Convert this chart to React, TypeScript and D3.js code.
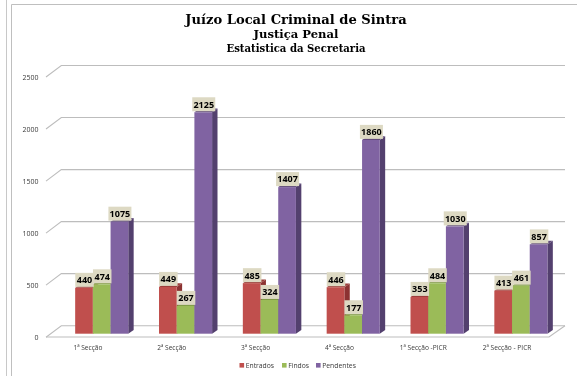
import React from "react";
import * as d3 from "d3";

const categories = ["1ª Secção", "2ª Secção", "3ª Secção", "4ª Secção", "1ª Secção -PICR", "2ª Secção - PICR"];
const entrados = [440, 449, 485, 446, 353, 413];
const findos = [474, 267, 324, 177, 484, 461];
const pendentes = [1075, 2125, 1407, 1860, 1030, 857];
const yTicks = [0, 500, 1000, 1500, 2000, 2500];
const titleLines = ["Juízo Local Criminal de Sintra", "Justiça Penal", "Estatistica da Secretaria"];

const seriesNames = ["Entrados", "Findos", "Pendentes"];
const seriesValues = [entrados, findos, pendentes];
const colors = ["#C0504D", "#9BBB59", "#8064A2"];
const sideColors = ["#8C3331", "#71893F", "#533F6E"];
const topColors = ["#9A3C39", "#7E9A45", "#5E4878"];

const W = 577, H = 376;
const depthX = 15.3, depthY = 11.5;
const barDX = 5.4, barDY = 3.7;
const frontY0 = 337;
const y = d3.scaleLinear().domain([0, 2500]).range([333.7, 73.2]);
const yWall = d3.scaleLinear().domain([0, 2500]).range([325.7, 65.5]);
const xFront = d3.scaleBand<string>().domain(categories).range([46, 549]);
const xBars = d3.scaleBand<string>().domain(categories).range([59.8, 562.8]);
const barW = 17.7;
const font = "'Open Sans', 'Noto Sans', sans-serif";
const grid = "#BDBDBD";

export default function App() {
  return (
    <svg width={W} height={H} viewBox={`0 0 ${W} ${H}`}
      style={{ position: "fixed", left: 0, top: 0, background: "#fff" }}>
      <defs>
        <filter id="soft" x="0" y="0" width="100%" height="100%">
          <feGaussianBlur stdDeviation="0.35" />
        </filter>
      </defs>
      <g filter="url(#soft)">
        <rect x={0} y={0} width={W} height={H} fill="#fff" />

        {/* frames */}
        <path d="M6.5 0V376" stroke="#C8C8C8" fill="none" />
        <path d="M11.5 376V4.5H577" stroke="#BFBFBF" fill="none" />

        {/* titles */}
        <g fontFamily="'DejaVu Serif', serif" fontWeight="bold" fill="#000" textAnchor="middle">
          <text x={296} y={23.5} fontSize={13.1}>{titleLines[0]}</text>
          <text x={296} y={37.8} fontSize={11.6}>{titleLines[1]}</text>
          <text x={296} y={51.6} fontSize={10.1}>{titleLines[2]}</text>
        </g>

        {/* walls and gridlines */}
        {yTicks.map((t) => (
          <g key={t}>
            <path
              d={`M46 ${yWall(t) + depthY}L${46 + depthX} ${yWall(t)}H565`}
              stroke={grid} strokeWidth={1.1} fill="none"
            />
            <text x={38.5} y={yWall(t) + depthY + 2.8} textAnchor="end" fontFamily={font} fontSize={7} fill="#3a3a3a">{t}</text>
          </g>
        ))}
        <path d={`M46 ${frontY0}H549L565 ${yWall(0)}`} stroke={grid} strokeWidth={1.1} fill="none" />

        {/* bars */}
        {categories.map((c, ci) => {
          const center = xBars(c)! + xBars.bandwidth() / 2;
          const x0 = center - (barW * 3) / 2;
          return (
            <g key={c}>
              {seriesValues.map((vals, si) => {
                const x = x0 + si * barW;
                const top = y(vals[ci]);
                const base = y(0);
                return (
                  <g key={si}>
                    <path
                      d={`M${x + barW} ${top}L${x + barW + barDX} ${top - barDY}V${base - barDY}L${x + barW} ${base}Z`}
                      fill={sideColors[si]}
                    />
                    <path
                      d={`M${x} ${top}L${x + barDX} ${top - barDY}H${x + barW + barDX}L${x + barW} ${top}Z`}
                      fill={topColors[si]}
                    />
                    <rect x={x} y={top} width={barW} height={base - top} fill={colors[si]} />
                  </g>
                );
              })}
            </g>
          );
        })}

        {/* value labels */}
        {categories.map((c, ci) => {
          const center = xBars(c)! + xBars.bandwidth() / 2;
          const x0 = center - (barW * 3) / 2;
          return seriesValues.map((vals, si) => {
            const v = vals[ci];
            const cx = x0 + si * barW + barW / 2 + 0.5;
            const top = y(v);
            const w = String(v).length > 3 ? 23 : 18.5;
            return (
              <g key={`${c}-${si}`}>
                <rect x={cx - w / 2} y={top - 15} width={w} height={14} fill="#DDD9C3" />
                <text x={cx} y={top - 4.6} textAnchor="middle" fontFamily={font} fontWeight="bold" fontSize={9} fill="#000">{v}</text>
              </g>
            );
          });
        })}

        {/* category labels */}
        {categories.map((c) => (
          <text key={c} x={xFront(c)! + xFront.bandwidth() / 2} y={350} textAnchor="middle"
            fontFamily={font} fontSize={6.6} fill="#3a3a3a">{c}</text>
        ))}

        {/* legend */}
        {seriesNames.map((n, i) => {
          const lx = [239.5, 282, 316][i];
          return (
            <g key={n}>
              <rect x={lx} y={363} width={4.6} height={4.6} fill={colors[i]} />
              <text x={lx + 6.2} y={368} fontFamily={font} fontSize={6.8} fill="#3a3a3a">{n}</text>
            </g>
          );
        })}
      </g>
    </svg>
  );
}
